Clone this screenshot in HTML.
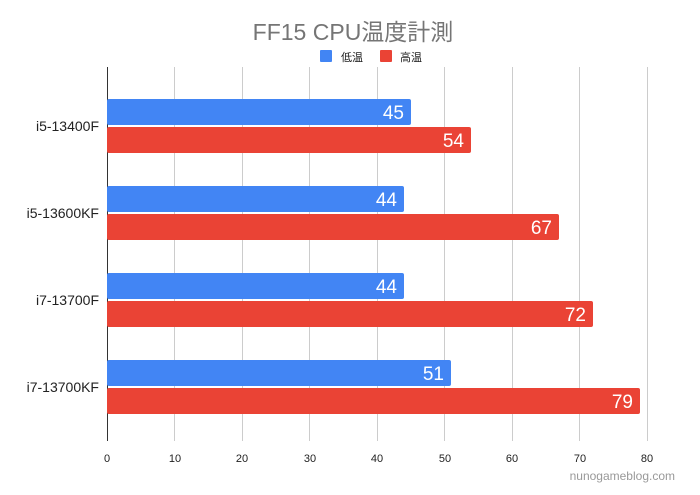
<!DOCTYPE html><html><head><meta charset="utf-8"><style>body{margin:0;background:#fff}</style></head><body>
<svg width="700" height="490" xmlns="http://www.w3.org/2000/svg" font-family="Liberation Sans, Noto Sans CJK JP, sans-serif">
<rect width="700" height="490" fill="#fff"/>
<text x="353" y="40" text-anchor="middle" font-size="23" fill="#757575">FF15 CPU温度計測</text>
<rect x="320" y="50" width="12" height="12" rx="1" fill="#4285f4"/><text x="341" y="61" font-size="11" fill="#222">低温</text>
<rect x="380" y="50" width="12" height="12" rx="1" fill="#ea4335"/><text x="400" y="61" font-size="11" fill="#222">高温</text>
<g stroke="#ccc" stroke-width="1">
<line x1="174.5" y1="67" x2="174.5" y2="441"/><line x1="242.5" y1="67" x2="242.5" y2="441"/><line x1="309.5" y1="67" x2="309.5" y2="441"/><line x1="377.5" y1="67" x2="377.5" y2="441"/><line x1="444.5" y1="67" x2="444.5" y2="441"/><line x1="512.5" y1="67" x2="512.5" y2="441"/><line x1="579.5" y1="67" x2="579.5" y2="441"/><line x1="647.5" y1="67" x2="647.5" y2="441"/>
</g>
<line x1="107.5" y1="67" x2="107.5" y2="441" stroke="#333"/>
<g font-size="19" fill="#fff" text-anchor="end">
<rect x="107" y="99" width="304" height="26" rx="2" fill="#4285f4"/><text x="404" y="119">45</text>
<rect x="107" y="127" width="364" height="26" rx="2" fill="#ea4335"/><text x="464" y="147">54</text>
<rect x="107" y="186" width="297" height="26" rx="2" fill="#4285f4"/><text x="397" y="206">44</text>
<rect x="107" y="214" width="452" height="26" rx="2" fill="#ea4335"/><text x="552" y="234">67</text>
<rect x="107" y="273" width="297" height="26" rx="2" fill="#4285f4"/><text x="397" y="293">44</text>
<rect x="107" y="301" width="486" height="26" rx="2" fill="#ea4335"/><text x="586" y="321">72</text>
<rect x="107" y="360" width="344" height="26" rx="2" fill="#4285f4"/><text x="444" y="380">51</text>
<rect x="107" y="388" width="533" height="26" rx="2" fill="#ea4335"/><text x="633" y="408">79</text>
</g>
<g font-size="14" fill="#222" text-anchor="end">
<text x="99" y="131">i5-13400F</text><text x="99" y="218">i5-13600KF</text><text x="99" y="305">i7-13700F</text><text x="99" y="392">i7-13700KF</text>
</g>
<g font-size="11" fill="#222" text-anchor="middle">
<text x="107" y="462">0</text><text x="175" y="462">10</text><text x="242" y="462">20</text><text x="310" y="462">30</text><text x="377" y="462">40</text><text x="445" y="462">50</text><text x="512" y="462">60</text><text x="580" y="462">70</text><text x="647" y="462">80</text>
</g>
<text x="675" y="480" text-anchor="end" font-size="12" fill="#999">nunogameblog.com</text>
</svg></body></html>
